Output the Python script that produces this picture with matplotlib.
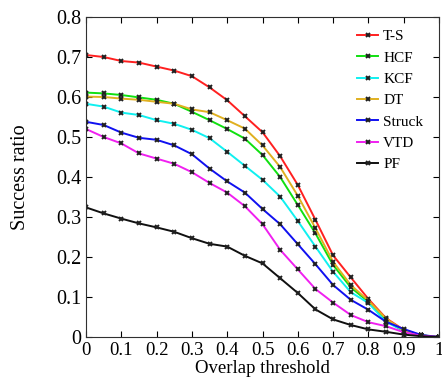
import numpy as np
import matplotlib
matplotlib.use("Agg")
import matplotlib.pyplot as plt

plt.rcParams['font.family'] = ['Liberation Serif', 'DejaVu Serif']

# overlap thresholds
thresholds = [0.0, 0.05, 0.1, 0.15, 0.2, 0.25, 0.3, 0.35, 0.4, 0.45, 0.5,
              0.55, 0.6, 0.65, 0.7, 0.75, 0.8, 0.85, 0.9, 0.95, 1.0]

ts = [0.705, 0.700, 0.690, 0.686, 0.676, 0.666, 0.652, 0.624, 0.592, 0.552, 0.512,
      0.452, 0.380, 0.293, 0.204, 0.149, 0.095, 0.047, 0.018, 0.004, 0.0]
hcf = [0.611, 0.609, 0.605, 0.599, 0.593, 0.583, 0.563, 0.542, 0.520, 0.496, 0.455,
       0.400, 0.330, 0.259, 0.180, 0.124, 0.088, 0.042, 0.014, 0.004, 0.0]
kcf = [0.583, 0.576, 0.561, 0.555, 0.542, 0.533, 0.518, 0.497, 0.463, 0.428, 0.393,
       0.351, 0.290, 0.226, 0.163, 0.112, 0.085, 0.038, 0.015, 0.004, 0.0]
dt = [0.601, 0.600, 0.596, 0.593, 0.588, 0.583, 0.569, 0.562, 0.542, 0.521, 0.479,
      0.425, 0.353, 0.272, 0.188, 0.130, 0.091, 0.046, 0.016, 0.004, 0.0]
struck = [0.538, 0.530, 0.511, 0.498, 0.493, 0.479, 0.457, 0.421, 0.389, 0.361, 0.320,
          0.282, 0.232, 0.182, 0.130, 0.093, 0.068, 0.038, 0.020, 0.005, 0.0]
vtd = [0.520, 0.500, 0.484, 0.459, 0.446, 0.433, 0.412, 0.385, 0.361, 0.327, 0.282,
       0.218, 0.169, 0.120, 0.086, 0.055, 0.037, 0.027, 0.012, 0.003, 0.0]
pf = [0.324, 0.309, 0.296, 0.284, 0.274, 0.263, 0.247, 0.233, 0.226, 0.203, 0.184,
      0.147, 0.110, 0.069, 0.044, 0.030, 0.019, 0.013, 0.006, 0.002, 0.0]

names = ['T-S', 'HCF', 'KCF', 'DT', 'Struck', 'VTD', 'PF']
series = [ts, hcf, kcf, dt, struck, vtd, pf]
colors = ['#ff2020', '#10e010', '#10f0f0', '#e0b020', '#1010f0', '#f020f0', '#101010']

xtick_labels = ['0', '0.1', '0.2', '0.3', '0.4', '0.5', '0.6', '0.7', '0.8', '0.9', '1']
ytick_labels = ['0', '0.1', '0.2', '0.3', '0.4', '0.5', '0.6', '0.7', '0.8']

fig = plt.figure(figsize=(4.42, 3.83), dpi=100)
ax = fig.add_axes([86 / 442, 1 - 337 / 383, (439 - 86) / 442, (337 - 17) / 383])

for name, vals, c in zip(names, series, colors):
    ax.plot(thresholds, vals, color=c, lw=1.4, marker='x', ms=3,
            mec='#202020', mew=1.4, label=name)

ax.set_xlim(0, 1)
ax.set_ylim(0, 0.8)
ax.set_xticks(np.arange(0, 1.01, 0.1))
ax.set_xticklabels(xtick_labels)
ax.set_yticks(np.arange(0, 0.81, 0.1))
ax.set_yticklabels(ytick_labels)
ax.tick_params(direction='in', top=True, right=True, length=4, width=0.8, pad=3.5)
ax.tick_params(axis='x', labelsize=13.5)
ax.tick_params(axis='y', labelsize=14.5)
for s in ax.spines.values():
    s.set_linewidth(0.8)
    s.set_color('#303030')

ax.set_xlabel('Overlap threshold', fontsize=13.5, labelpad=1)
ax.set_ylabel('Success ratio', fontsize=14.5)
ax.yaxis.set_label_coords(-0.16, 0.5)

leg = ax.legend(loc='upper right', bbox_to_anchor=(1 - 5 / 353, 1 - 2 / 320),
                fontsize=11, frameon=True, framealpha=1,
                edgecolor='white', handlelength=1.35, handletextpad=0.35,
                labelspacing=0.5, borderaxespad=0.3, borderpad=0.4)

fig.savefig('out.png', dpi=100)
